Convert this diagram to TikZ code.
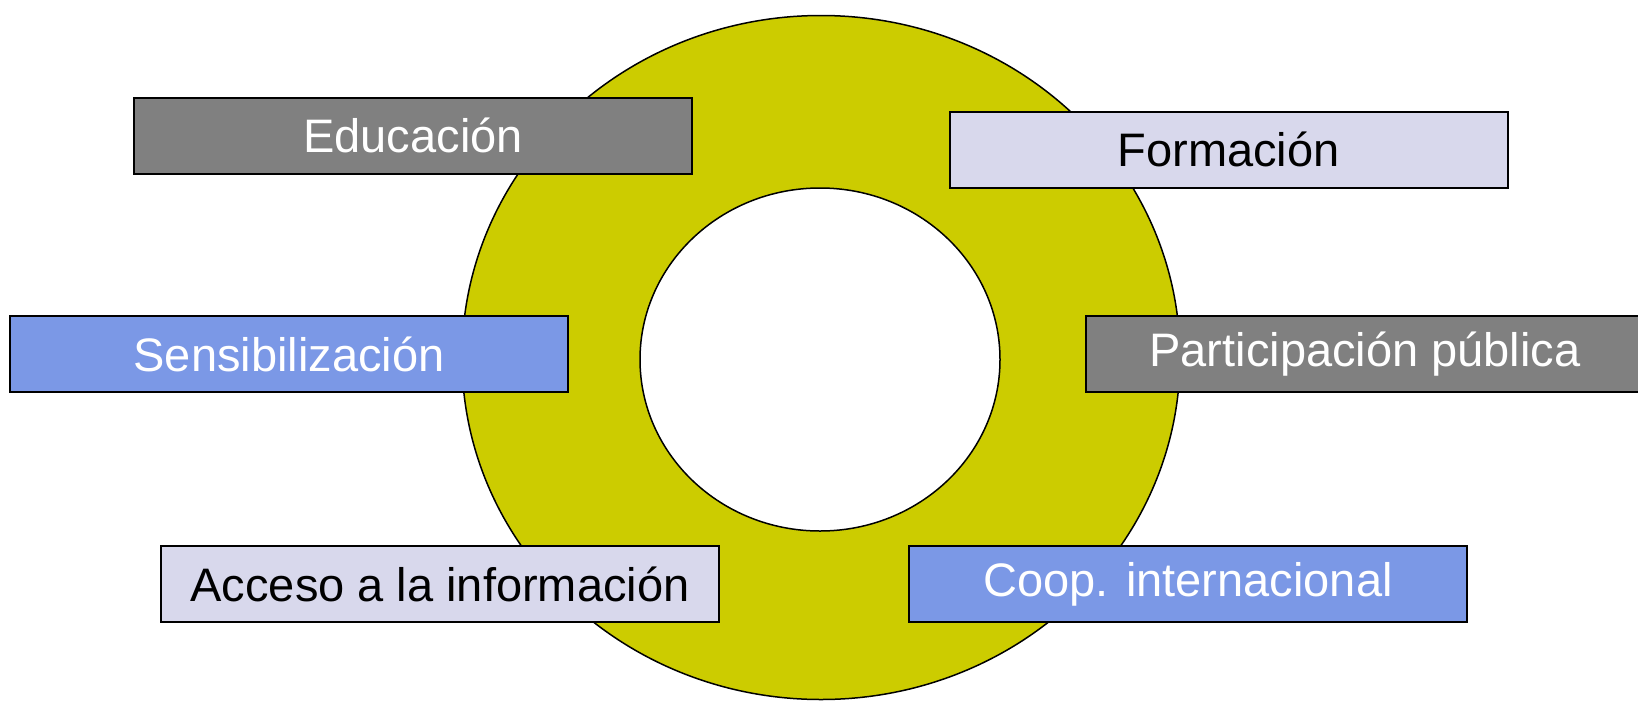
\documentclass[tikz,border=0pt]{standalone}
\usepackage{fontspec}
\setmainfont{Liberation Sans}
\definecolor{ringyellow}{HTML}{CCCC00}
\definecolor{boxgray}{HTML}{808080}
\definecolor{boxlight}{HTML}{D8D8EC}
\definecolor{boxblue}{HTML}{7B98E6}
\tikzset{
  lbox/.style={draw=black, line width=2pt, rectangle, minimum width=558pt, minimum height=76pt, inner sep=0pt, font=\fontsize{47}{56}\selectfont},
  graybox/.style={lbox, fill=boxgray, text=white},
  lightbox/.style={lbox, fill=boxlight, text=black},
  bluebox/.style={lbox, fill=boxblue, text=white},
  ring/.style={draw=black, line width=1.5pt}
}
\begin{document}
\begin{tikzpicture}[x=1pt,y=-1pt]
\useasboundingbox (0,0) rectangle (1638,702);
\clip (0,0) rectangle (1638,702);
\fill[white] (0,0) rectangle (1638,702);
\draw[ring, fill=ringyellow] (821,357.5) ellipse [x radius=359, y radius=342];
\draw[ring, fill=white] (820,359.5) ellipse [x radius=180, y radius=171.5];
\node[graybox] (edu) at (413,135.5) {Educación};
\node[lightbox] (form) at (1228.5,149.5) {Formación};
\node[bluebox] (sens) at (289,354) {Sensibilización};
\node[graybox] (part) at (1365,354) {Participación pública};
\node[lightbox] (acc) at (440,584) {Acceso a la información};
\node[bluebox] (coop) at (1188,584) {Coop. internacional};
\end{tikzpicture}
\end{document}
